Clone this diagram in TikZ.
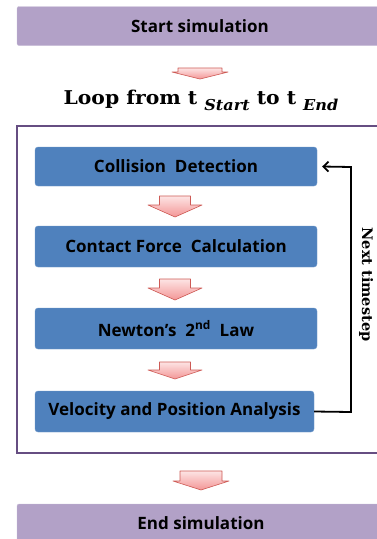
\documentclass[tikz,border=0pt]{standalone}
\usepackage{fontspec}
\usepackage{graphicx}
\usetikzlibrary{arrows.meta}
\setmainfont{DejaVu Serif}
\setsansfont{Open Sans}
\definecolor{lav}{RGB}{178,161,199}
\definecolor{bluebox}{RGB}{79,129,189}
\definecolor{frame}{RGB}{102,78,130}
\definecolor{arrowedge}{RGB}{205,90,85}
\definecolor{pinktop}{RGB}{253,228,228}
\definecolor{pinkbot}{RGB}{243,150,150}
\tikzset{
  purplebox/.style={fill=lav, draw=lav!70!white, rounded corners=2pt, inner sep=0pt},
  boxfont/.style={font=\sffamily\bfseries\fontsize{17}{20}\selectfont},
  stagebox/.style={fill=bluebox, draw=bluebox!80!white, rounded corners=3pt, inner sep=0pt, boxfont},
  blockarrow/.style={top color=pinktop, bottom color=pinkbot, draw=arrowedge, line width=0.6pt, line join=round},
  loopline/.style={line width=1.8pt, line join=miter},
}
\newcommand{\pinkarrow}[6]{% cx, ytop, yhead, ytip, shaft half, head half
  \path[blockarrow] (#1-#5,#2) -- (#1+#5,#2) -- (#1+#5,#3) -- (#1+#6,#3) -- (#1,#4) -- (#1-#6,#3) -- (#1-#5,#3) -- cycle;}
\newcommand{\subtxt}[1]{\raisebox{-0.3em}{\fontsize{15}{15}\selectfont\bfseries\itshape #1}}
\begin{document}
\begin{tikzpicture}[x=1pt,y=-1pt]
\useasboundingbox (0,0) rectangle (377,539);
\clip (0,0) rectangle (377,539);
% start and end
\node[purplebox, minimum width=366pt, minimum height=39pt] (start) at (200,26) {};
\node[boxfont] (starttxt) at (200,26) {Start simulation};
\node[purplebox, minimum width=366pt, minimum height=50pt] (end) at (200,529) {};
\node[boxfont] (endtxt) at (201,523) {End simulation};
% arrows outside
\pinkarrow{200}{68}{72}{79}{22}{28}
\pinkarrow{201}{471}{481}{490}{21}{28}
% title
\node[font=\bfseries\fontsize{19}{22}\selectfont, anchor=base, inner sep=0pt] (title) at (201,104.5)
  {\scalebox{1.07}[1]{Loop from t \subtxt{Start} to t \subtxt{End}}};
% frame
\node[draw=frame, line width=2.6pt, minimum width=380pt, minimum height=327pt, inner sep=0pt, anchor=north west] (loopframe) at (15.5,124.5) {};
% stages
\node[stagebox, minimum width=282pt, minimum height=39pt] (cd) at (176,166.5) {Collision\ \ Detection};
\node[stagebox, minimum width=282pt, minimum height=41pt] (cf) at (176,246.5) {Contact\ Force\ \ Calculation};
\node[stagebox, minimum width=282pt, minimum height=41pt] (nl) at (176,328.5) {Newton’s\ \ 2\textsuperscript{nd}\ \ Law};
\node[stagebox, minimum width=279pt, minimum height=41pt] (vp) at (174.5,411.5) {Velocity\ and\ Position\ Analysis};
\pinkarrow{175}{196}{205}{217}{15.5}{27}
\pinkarrow{175}{279}{288}{300}{15.5}{27}
\pinkarrow{175}{362}{370}{379}{15.5}{27}
% loop back
\coordinate (corner1) at (351,412);
\coordinate (corner2) at (351,167);
\draw[loopline, -{Straight Barb[length=5pt,width=10pt,line width=1.8pt]}] (vp.east) -- (corner1) -- (corner2) -- ([xshift=5pt]cd.east);
\node[font=\bfseries\fontsize{14.5}{16}\selectfont, rotate=-90] (next) at (366,284.5) {Next timestep};
\end{tikzpicture}
\end{document}
